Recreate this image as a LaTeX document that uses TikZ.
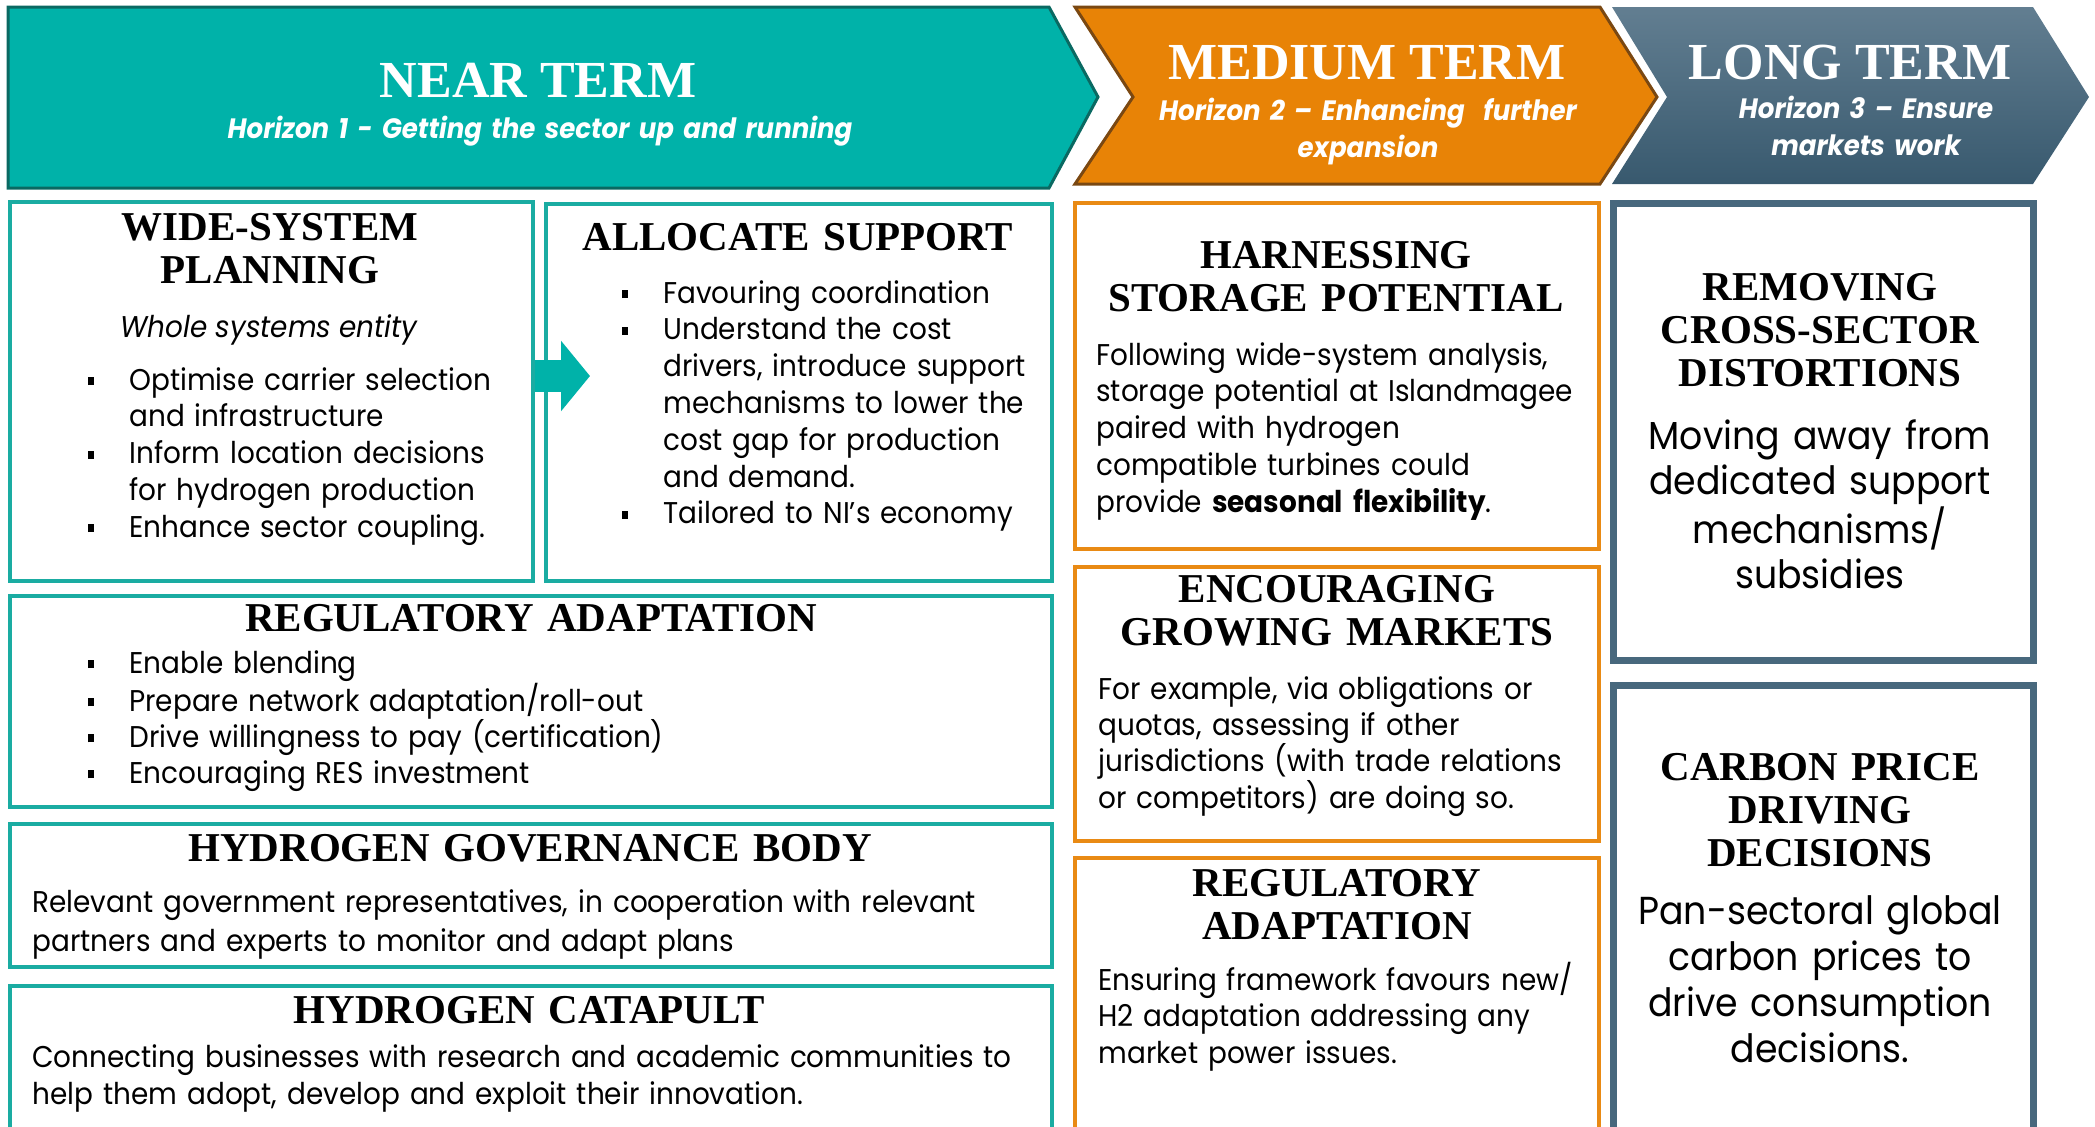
\documentclass[tikz,border=0pt]{standalone}
\usepackage{xcolor}
\usepackage{fontspec}
\setmainfont{Liberation Serif}
\newfontfamily\bodyfont{Poppins}[FakeStretch=0.93]
\usepackage{tikz}
\usetikzlibrary{arrows.meta, positioning}

\definecolor{tealfill}{RGB}{0,178,169}
\definecolor{tealline}{RGB}{10,105,98}
\definecolor{tealbox}{RGB}{26,172,162}
\definecolor{orangefill}{RGB}{232,131,6}
\definecolor{orangeline}{RGB}{122,72,18}
\definecolor{orangebox}{RGB}{233,138,20}
\definecolor{slatetop}{RGB}{98,126,145}
\definecolor{slatebot}{RGB}{56,89,110}
\definecolor{slatebox}{RGB}{72,104,125}

\newcommand{\sqbul}{\makebox[20.5pt][l]{\rule[2.5pt]{3pt}{4pt}}}
\newcommand{\bulgap}{\hspace*{20.5pt}}

\tikzset{
    nearbox/.style={draw=tealbox, line width=2pt, rectangle, anchor=north west},
    midbox/.style={draw=orangebox, line width=2pt, rectangle, anchor=north west},
    longbox/.style={draw=slatebox, line width=3.5pt, rectangle, anchor=north west},
    termhead/.style={font=\fontsize{26}{28}\selectfont\bfseries, text=white, anchor=base, inner sep=0pt},
    termsub/.style={font=\bodyfont\fontsize{14}{18.5}\selectfont\bfseries\itshape, text=white, align=center, text width=300pt, anchor=base, inner sep=0pt},
    boxhead/.style={font=\fontsize{20.5}{21.5}\selectfont\bfseries, align=center, text width=260pt, anchor=base, inner sep=0pt},
    boxtext/.style={font=\bodyfont\fontsize{15}{18.4}\selectfont, align=left, text width=255pt, anchor=base west, inner sep=0pt},
    bigtext/.style={font=\bodyfont\fontsize{19.5}{22.7}\selectfont, align=center, text width=205pt, anchor=base, inner sep=0pt}
}

\begin{document}
\begin{tikzpicture}[x=0.5pt, y=-0.5pt]
    \useasboundingbox (0,0) rectangle (2095,1126);

    % term arrows
    \filldraw[fill=tealfill, draw=tealline, line width=1.5pt]
        (8,7) -- (1049,7) -- (1098,97) -- (1049,188) -- (8,188) -- cycle;
    \filldraw[fill=orangefill, draw=orangeline, line width=1.5pt]
        (1075,7) -- (1600,7) -- (1657,97) -- (1600,184) -- (1075,184) -- (1133,97) -- cycle;
    \shade[top color=slatetop, bottom color=slatebot]
        (1612,7) -- (2033,7) -- (2089,97) -- (2033,184) -- (1612,184) -- (1667,97) -- cycle;

    \node[termhead] (nearhd) at (538,97) {NEAR TERM};
    \node[termsub, text width=450pt] (nearsub) at (540,138) {Horizon 1 - Getting the sector up and running};
    \node[termhead] (midhd) at (1367,79) {MEDIUM TERM};
    \node[termsub] (midsub) at (1368,120) {Horizon 2 – Enhancing\ \ further\\expansion};
    \node[termhead] (longhd) at (1850,79) {LONG TERM};
    \node[termsub] (longsub) at (1866,118) {Horizon 3 – Ensure\\markets work};

    % near term boxes
    \node[nearbox, minimum width=261.5pt, minimum height=189.5pt] (wsp) at (8,200) {};
    \node[nearbox, minimum width=253pt, minimum height=188.5pt] (alloc) at (544,202) {};
    \node[nearbox, minimum width=521pt, minimum height=105.5pt] (regnear) at (8,594) {};
    \node[nearbox, minimum width=521pt, minimum height=71.5pt] (govbody) at (8,822) {};
    \node[nearbox, minimum width=521pt, minimum height=100pt] (catapult) at (8,984) {};

    \coordinate (arrtip) at (590,376);
    \draw[tealfill, line width=16pt, -{Triangle[length=14.5pt, width=34.5pt]}] (wsp.east |- arrtip) -- (arrtip);

    \node[boxhead] (wsphd) at (270,240) {WIDE-SYSTEM\\PLANNING};
    \node[font=\bodyfont\fontsize{15}{18.4}\selectfont\itshape, anchor=base, inner sep=0pt] (wspsub) at (269,337) {Whole systems entity};
    \node[boxtext] (wsptxt) at (88,390) {\sqbul Optimise carrier selection\\
        \bulgap and infrastructure\\
        \sqbul Inform location decisions\\
        \bulgap for hydrogen production\\
        \sqbul Enhance sector coupling.};

    \node[boxhead] (allochd) at (798,250) {ALLOCATE SUPPORT};
    \node[boxtext] (alloctxt) at (622,303) {\sqbul Favouring coordination\\
        \sqbul Understand the cost\\
        \bulgap drivers, introduce support\\
        \bulgap mechanisms to lower the\\
        \bulgap cost gap for production\\
        \bulgap and demand.\\
        \sqbul Tailored to NI’s economy};

    \node[boxhead, text width=500pt] (regnearhd) at (531,631) {REGULATORY ADAPTATION};
    \node[boxtext, text width=480pt, font=\bodyfont\fontsize{15}{18}\selectfont] (regneartxt) at (88,673) {\sqbul Enable blending\\
        \sqbul Prepare network adaptation/roll-out\\
        \sqbul Drive willingness to pay (certification)\\
        \sqbul Encouraging RES investment};

    \node[boxhead, text width=500pt] (govhd) at (530,861) {HYDROGEN GOVERNANCE BODY};
    \node[boxtext, text width=505pt, font=\bodyfont\fontsize{15}{19.5}\selectfont] (govtxt) at (32,912) {Relevant government representatives, in cooperation with relevant\\
        partners and experts to monitor and adapt plans};

    \node[boxhead, text width=500pt] (catahd) at (529,1023) {HYDROGEN CATAPULT};
    \node[boxtext, text width=505pt, font=\bodyfont\fontsize{15}{18.5}\selectfont] (catatxt) at (32,1067) {Connecting businesses with research and academic communities to\\
        help them adopt, develop and exploit their innovation.};

    % medium term boxes
    \node[midbox, minimum width=262pt, minimum height=173pt] (harness) at (1073,201) {};
    \node[midbox, minimum width=262pt, minimum height=137pt] (grow) at (1073,565) {};
    \node[midbox, minimum width=262pt, minimum height=160pt] (regmid) at (1073,856) {};

    \node[boxhead] (harnesshd) at (1336,268) {HARNESSING\\STORAGE POTENTIAL};
    \node[boxtext] (harnesstxt) at (1096,365) {Following wide-system analysis,\\
        storage potential at Islandmagee\\
        paired with hydrogen\\
        compatible turbines could\\
        provide \textbf{seasonal flexibility}.};

    \node[boxhead] (growhd) at (1337,602) {ENCOURAGING\\GROWING MARKETS};
    \node[boxtext, font=\bodyfont\fontsize{15}{18.2}\selectfont] (growtxt) at (1098,699) {For example, via obligations or\\
        quotas, assessing if other\\
        jurisdictions (with trade relations\\
        or competitors) are doing so.};

    \node[boxhead] (regmidhd) at (1337,896) {REGULATORY\\ADAPTATION};
    \node[boxtext] (regmidtxt) at (1098,990) {Ensuring framework favours new/\\
        H2 adaptation addressing any\\
        market power issues.};

    % long term boxes
    \node[longbox, minimum width=210pt, minimum height=228.5pt] (removing) at (1610,200) {};
    \node[longbox, minimum width=210pt, minimum height=240pt] (carbon) at (1610,682) {};

    \node[boxhead, text width=200pt] (removinghd) at (1820,300) {REMOVING\\CROSS-SECTOR\\DISTORTIONS};
    \node[bigtext] (removingtxt) at (1820,449) {Moving away from\\dedicated support\\mechanisms/\\subsidies};

    \node[boxhead, text width=200pt] (carbonhd) at (1820,780) {CARBON PRICE\\DRIVING\\DECISIONS};
    \node[bigtext, font=\bodyfont\fontsize{19.5}{23}\selectfont] (carbontxt) at (1820,924) {Pan-sectoral global\\carbon prices to\\drive consumption\\decisions.};
\end{tikzpicture}
\end{document}
